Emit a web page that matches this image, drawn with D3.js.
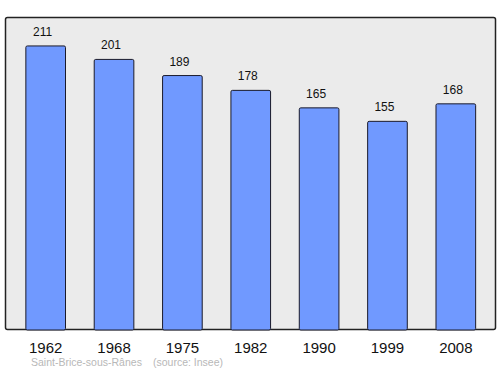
<!DOCTYPE html>
<html><head><meta charset="utf-8">
<script src="https://cdn.jsdelivr.net/npm/d3@7"></script>
<style>body{margin:0;background:#fff}svg{display:block}</style>
</head><body>
<script>
const years = ["1962","1968","1975","1982","1990","1999","2008"];
const population = [211,201,189,178,165,155,168];
const sourceTexts = ["Saint-Brice-sous-Rânes", "(source: Insee)"];

const W = 500, H = 374;
const frame = {left:5.5, top:17.5, right:495.5, bottom:329.5};
const svg = d3.select("body").append("svg").attr("width",W).attr("height",H);

svg.append("rect").attr("x",frame.left).attr("y",frame.top)
  .attr("width",frame.right-frame.left).attr("height",frame.bottom-frame.top)
  .attr("rx",2).attr("fill","#ebebeb").attr("stroke","#222").attr("stroke-width",1.5);

const x = d3.scaleBand().domain(years).range([11.5,490]).paddingInner(0.42).paddingOuter(0.21);
const y = d3.scaleLinear().domain([0,232.5]).range([330,17]);

svg.selectAll("rect.bar").data(population).join("rect").attr("class","bar")
  .attr("x",(d,i)=>x(years[i])).attr("width",x.bandwidth())
  .attr("y",d=>y(d)).attr("height",d=>y(0)-y(d))
  .attr("rx",1.5)
  .attr("fill","#7099ff").attr("stroke","#1a1a2a").attr("stroke-width",1);

svg.selectAll("text.val").data(population).join("text").attr("class","val")
  .attr("x",(d,i)=>x(years[i])+x.bandwidth()/2-3).attr("y",d=>y(d)-10)
  .attr("text-anchor","middle").attr("font-family","Liberation Sans, Arial, sans-serif")
  .attr("font-size",12).attr("fill","#111").text(d=>d);

const axis = d3.axisBottom(x).tickSize(0).tickPadding(0);
const g = svg.append("g").attr("transform","translate(0,330)").call(axis);
g.select(".domain").remove();
g.selectAll("text").attr("y",23).attr("dy",0).attr("font-family","Liberation Sans, Arial, sans-serif")
  .attr("font-size",15).attr("fill","#111");

svg.append("text").attr("x",31).attr("y",366).attr("font-family","Liberation Sans, Arial, sans-serif")
  .attr("font-size",10.5).attr("fill","#b8b8b8").text(sourceTexts[0]);
svg.append("text").attr("x",153).attr("y",366).attr("font-family","Liberation Sans, Arial, sans-serif")
  .attr("font-size",10.5).attr("fill","#b8b8b8").text(sourceTexts[1]);
</script>
</body></html>
